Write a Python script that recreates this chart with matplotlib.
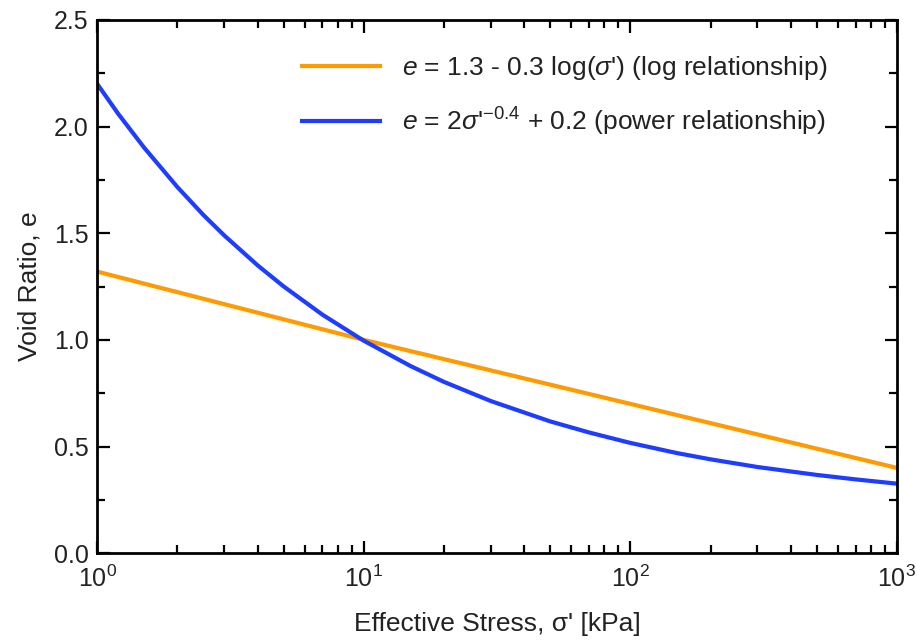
import numpy as np
import matplotlib
matplotlib.use("Agg")
from matplotlib import pyplot as plt
from matplotlib.ticker import MultipleLocator, LogLocator, NullFormatter

# stress values [kPa] and void ratios
stress_log = [1, 10, 1000]
e_log = [1.32, 1.00, 0.40]

stress_pow = [1, 1.2, 1.5, 2, 2.5, 3, 4, 5, 7, 10, 15, 20, 30, 50, 70,
              100, 150, 200, 300, 500, 700, 1000]
e_pow = [2.200, 2.059, 1.901, 1.716, 1.586, 1.489, 1.349, 1.251, 1.118, 0.996,
         0.877, 0.803, 0.713, 0.618, 0.566, 0.517, 0.469, 0.440, 0.404,
         0.367, 0.346, 0.326]

labels = [r"$e$ = 1.3 - 0.3 log($\sigma$') (log relationship)",
          r"$e$ = 2$\sigma$'$^{\mathrm{-}0.4}$ + 0.2 (power relationship)"]

plt.rcParams['font.family'] = ['Liberation Sans', 'DejaVu Sans']
plt.rcParams['mathtext.fontset'] = 'custom'
plt.rcParams['mathtext.rm'] = 'Liberation Sans'
plt.rcParams['mathtext.it'] = 'Liberation Sans:italic'
plt.rcParams['text.color'] = '#222222'
plt.rcParams['axes.labelcolor'] = '#222222'
plt.rcParams['xtick.labelcolor'] = '#222222'
plt.rcParams['ytick.labelcolor'] = '#222222'

fig = plt.figure(figsize=(9.17, 6.41), dpi=100)
ax = fig.add_axes([0.106, 0.137, 0.872, 0.832])

ax.plot(stress_log, e_log, color='#ff9a00', lw=3, label=labels[0])
ax.plot(stress_pow, e_pow, color='#1f3dff', lw=3, label=labels[1])

ax.set_xscale('log')
ax.set_xlim(1, 1000)
ax.set_ylim(0, 2.5)
ax.yaxis.set_major_locator(MultipleLocator(0.5))
ax.yaxis.set_minor_locator(MultipleLocator(0.25))
ax.xaxis.set_minor_locator(LogLocator(base=10, subs=np.arange(2, 10)))
ax.xaxis.set_minor_formatter(NullFormatter())

ax.tick_params(which='both', direction='in', top=True, right=True, labelsize=18, width=1.6)
ax.tick_params(which='major', length=9, pad=6)
ax.tick_params(axis='x', which='major', pad=9)
ax.tick_params(which='minor', length=5.5)
for s in ax.spines.values():
    s.set_linewidth(2)

ax.set_xlabel("Effective Stress, σ' [kPa]", fontsize=19, labelpad=14)
ax.set_ylabel("Void Ratio, e", fontsize=19, labelpad=9)

ax.legend(loc='upper right', frameon=False, fontsize=19, handlelength=2.95,
          handletextpad=0.83, labelspacing=0.9, bbox_to_anchor=(0.9325, 0.966),
          borderaxespad=0.2)

fig.savefig('out.png', dpi=100)
